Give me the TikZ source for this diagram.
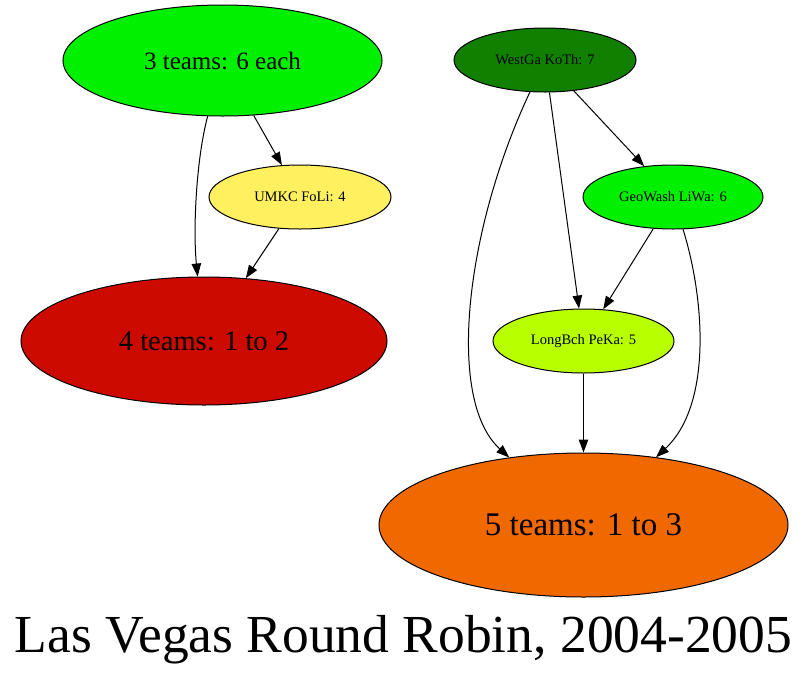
\documentclass[tikz,border=0pt]{standalone}
\usepackage{fontspec}
\setmainfont{Liberation Serif}
\usetikzlibrary{shapes.geometric,arrows.meta}
\definecolor{cgreen}{HTML}{00F000}
\definecolor{cdark}{HTML}{118000}
\definecolor{cyellow}{HTML}{FFF060}
\definecolor{cred}{HTML}{CC0A00}
\definecolor{clime}{HTML}{B8FF00}
\definecolor{corange}{HTML}{F06800}
\tikzset{
  nd/.style={ellipse, draw=black, line width=1pt, inner sep=0pt},
  small/.style={nd, minimum width=182pt, minimum height=64pt, font=\fontsize{14.5}{16}\selectfont},
  edge/.style={line width=1pt, -{Triangle[length=13pt,width=9.5pt]}}
}
\begin{document}
\begin{tikzpicture}[x=1pt,y=-1pt]
\useasboundingbox (0,0) rectangle (809,673);
\node[nd, fill=cgreen, minimum width=319pt, minimum height=111pt, font=\fontsize{25}{28}\selectfont] (A) at (222.5,60.5) {3 teams: 6 each};
\node[small, fill=cyellow] (B) at (300,197) {UMKC FoLi: 4};
\node[nd, fill=cred, minimum width=366pt, minimum height=128pt, font=\fontsize{28.5}{32}\selectfont] (C) at (204,341) {4 teams: 1 to 2};
\node[small, fill=cdark, minimum width=182pt] (D) at (545,60) {WestGa KoTh: 7};
\node[small, fill=cgreen, minimum width=180pt] (E) at (673,197) {GeoWash LiWa: 6};
\node[small, fill=clime, minimum width=181pt] (F) at (583.5,341) {LongBch PeKa: 5};
\node[nd, fill=corange, minimum width=409pt, minimum height=144pt, font=\fontsize{33}{36}\selectfont] (G) at (583.5,525) {5 teams: 1 to 3};
\node[font=\fontsize{53.5}{60}\selectfont, anchor=base] (T) at (403.5,652) {Las Vegas Round Robin, 2004-2005};

\draw[edge] (A) .. controls (196,160) and (193,230) .. (C);
\draw[edge] (A) -- (B);
\draw[edge] (B) -- (C);
\draw[edge] (D) .. controls (465,230) and (446,400) .. (G);
\draw[edge] (D) -- (F);
\draw[edge] (D) -- (E);
\draw[edge] (E) -- (F);
\draw[edge] (E) .. controls (705,300) and (712,405) .. (G);
\draw[edge] (F) -- (G);
\end{tikzpicture}
\end{document}
